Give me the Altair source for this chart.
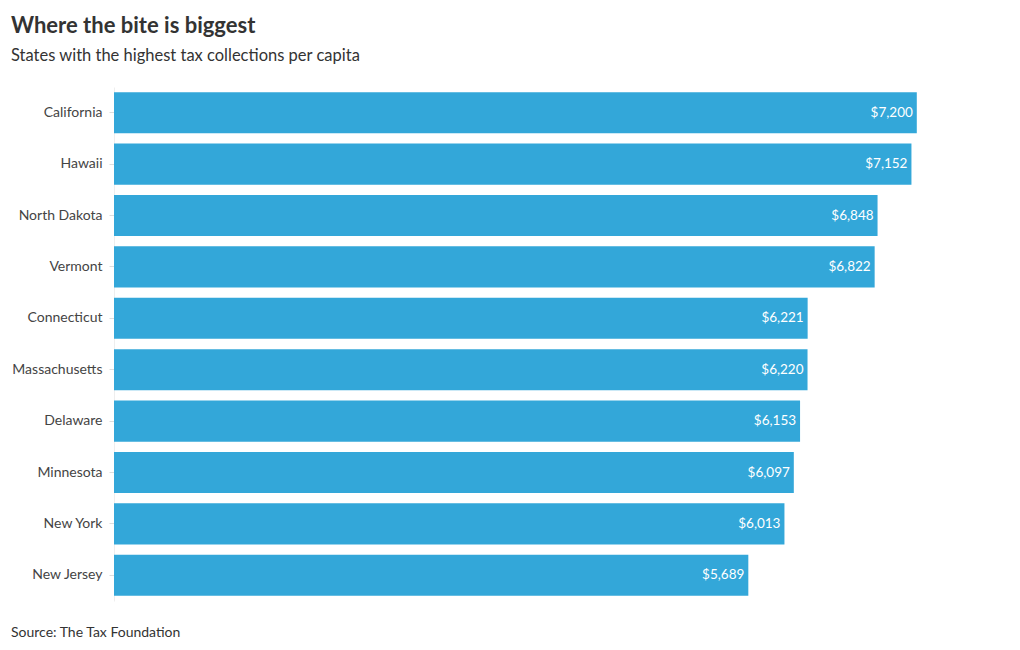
import altair as alt
import pandas as pd

states = ["California", "Hawaii", "North Dakota", "Vermont", "Connecticut",
          "Massachusetts", "Delaware", "Minnesota", "New York", "New Jersey"]
values = [7200, 7152, 6848, 6822, 6221, 6220, 6153, 6097, 6013, 5689]
labels = ["$7,200", "$7,152", "$6,848", "$6,822", "$6,221",
          "$6,220", "$6,153", "$6,097", "$6,013", "$5,689"]

df = pd.DataFrame({"state": states, "value": values, "label": labels})

W, H = 892, 514
FONT = "Lato"

y_enc = alt.Y("state:N", sort=states, title=None,
              scale=alt.Scale(paddingInner=0.2, paddingOuter=0.1),
              axis=alt.Axis(labelFont=FONT, labelFontSize=14, labelColor="#444",
                            tickColor="#ddd", tickSize=5, domainColor="#eee",
                            labelPadding=7))
x_enc = alt.X("value:Q", title=None, scale=alt.Scale(domain=[0, 8000]), axis=None)

base = alt.Chart(df)
bars = base.mark_bar(color="#33a7d9").encode(x=x_enc, y=y_enc)
text = base.mark_text(align="right", baseline="middle", dx=-4, color="white",
                      font=FONT, fontSize=13.5).encode(x=x_enc, y=y_enc, text="label:N")

source = alt.Chart(pd.DataFrame({"t": ["Source: The Tax Foundation"]})).mark_text(
    align="left", baseline="middle", font=FONT, fontSize=14, color="#333"
).encode(x=alt.value(-103), y=alt.value(H + 32), text="t:N")

chart = alt.layer(bars, text, source).properties(
    width=W, height=H,
    title=alt.TitleParams(
        text="Where the bite is biggest",
        subtitle="States with the highest tax collections per capita",
        anchor="start", frame="bounds", font=FONT, fontSize=22, fontWeight="bold",
        color="#333", subtitleFont=FONT, subtitleFontSize=16.5, subtitleColor="#333",
        subtitlePadding=10, offset=22),
    autosize=alt.AutoSizeParams(type="none"),
    padding={"left": 106, "top": 79, "right": 6, "bottom": 48},
).configure(background="white", view=alt.ViewConfig(stroke="transparent", strokeWidth=0))

chart.save("out.html", embed_options={"renderer": "svg", "actions": False})
